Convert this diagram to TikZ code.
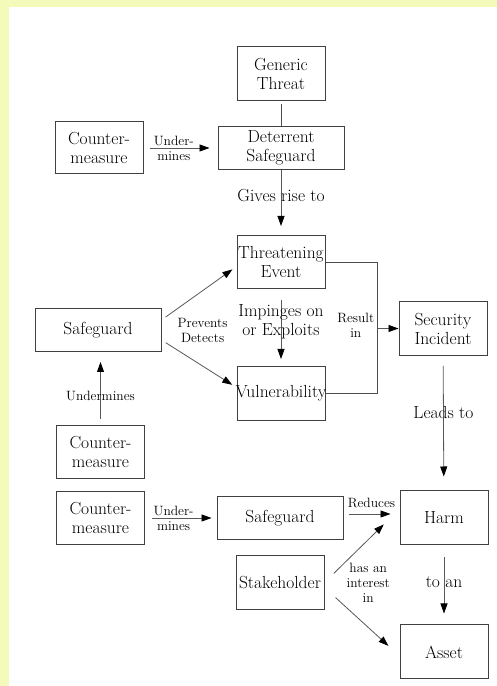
\documentclass[tikz,border=0pt]{standalone}
\usepackage{tikz}
\usetikzlibrary{arrows.meta,positioning}
\definecolor{pagebg}{RGB}{244,250,186}
\newcommand{\boxfont}{\fontsize{17.5}{19}\selectfont}
\newcommand{\lblfont}{\fontsize{13.5}{15}\selectfont}
% text that may run over the box edge
\newcommand{\spill}[1]{\makebox[0pt]{#1}}
\tikzset{
    %Define standard arrow tip
    >={Triangle[length=10pt,width=7pt,color=black]},
    %Define style for boxes
    box/.style={
           rectangle,
           draw=black!75, line width=1pt,
           minimum width=88pt,
           minimum height=54pt,
           inner sep=1pt,
           font=\boxfont,
           text=black,
           align=center},
    widebox/.style={
           box,
           minimum width=126pt,
           minimum height=43pt},
    % Define label styles
    slbl/.style={
           font=\lblfont,
           text=black,
           inner sep=1pt,
           align=center},
    blbl/.style={
           slbl,
           font=\boxfont},
    % Define arrow style
    rel/.style={
           ->,
           draw=black!65,
           line width=0.8pt},
    plain/.style={
           draw=black!70,
           line width=0.8pt}
}
\begin{document}
\begin{tikzpicture}[x=1pt,y=1pt,node distance=20pt]
\fill[pagebg] (0,0) rectangle (497,686);
\fill[white] (9,0) rectangle (497,679);
\useasboundingbox (0,0) rectangle (497,686);
\node[box] (gt) at (281,612.5) {Generic\\Threat};
\node[widebox, below=25pt of gt] (ds) {Deterrent\\Safeguard};
\node[box, left=74pt of ds, minimum height=52pt] (cm1) {Counter-\\measure};
\node[box, below=65pt of ds, minimum height=53pt] (te) {\spill{Threatening}\\Event};
\node[box, below=77pt of te] (vu) {\spill{Vulnerability}};
\node[widebox, below left=19pt and 75pt of te.south west] (sg1) {Safeguard};
\node[box, below right=12pt and 73pt of te.south east] (si) {Security\\Incident};
\node[box, below=73pt of sg1, xshift=2.5pt, minimum height=53pt] (cm2) {Counter-\\measure};
\node[box, below=12pt of cm2, minimum height=53pt] (cm3) {Counter-\\measure};
\node[widebox, right=71.5pt of cm3] (sg2) {Safeguard};
\node[box, right=56pt of sg2] (harm) {Harm};
\node[box, below=15pt of sg2] (sh) {\spill{Stakeholder}};
\node[box, below=79pt of harm] (asset) {Asset};
\coordinate (rj) at ([xshift=-21pt]si.west);
\node[slbl, right=15pt of sg1] (pd) {Prevents\\Detects};
\node[slbl, left=2pt of rj, yshift=3pt] (ri) {Result\\in};
\node[slbl, right=21pt of sh] (hi) {has an\\interest\\in};
\draw[plain, shorten <=3pt] (gt) -- (ds);
\path[rel]
	(cm1) edge[shorten <=6pt, shorten >=8pt] node[slbl, pos=0.41] (u1) {Under-\\mines} (ds)
	(ds) edge[shorten >=9pt] node[blbl, pos=0.4] (gr) {Gives rise to} (te)
	(te) edge[shorten <=11pt, shorten >=7pt] node[blbl, pos=0.42] (ie) {Impinges on\\or Exploits} (vu)
	(si) edge[shorten <=10pt, shorten >=14pt] node[blbl, pos=0.42] (lt) {Leads to} (harm)
	(harm) edge[shorten <=12pt, shorten >=11pt] node[blbl, pos=0.46] (ta) {to an} (asset)
	(cm3) edge[shorten <=7pt, shorten >=5pt] node[slbl, pos=0.4] (u3) {Under-\\mines} (sg2);
\draw[rel, shorten <=6pt, shorten >=10pt] (cm2.north) -- (cm2.north |- sg1.south)
	node[slbl, pos=0.4] (u2) {Undermines};
\draw[rel, shorten <=5pt, shorten >=5pt] ([yshift=10pt]sg1.east) -- ([yshift=-4.5pt]te.west);
\draw[rel, shorten <=5pt, shorten >=5pt] ([yshift=-10pt]sg1.east) -- ([yshift=6pt]vu.west);
\draw[plain] (te.east) -| (rj) |- (vu.east);
\draw[rel] (rj) -- (si);
\draw[rel, shorten <=5pt, shorten >=9pt] ([yshift=4pt]sg2.east) -- ([yshift=4pt]harm.west)
	node[slbl, midway, above=5pt] (rd) {Reduces};
\draw[rel, shorten <=13pt, shorten >=22pt] (sh.east) -- ([yshift=9pt]harm.west);
\draw[rel, shorten <=15pt, shorten >=15pt] ([yshift=-5pt]sh.east) -- ([yshift=-4pt]asset.west);
\end{tikzpicture}
\end{document}
